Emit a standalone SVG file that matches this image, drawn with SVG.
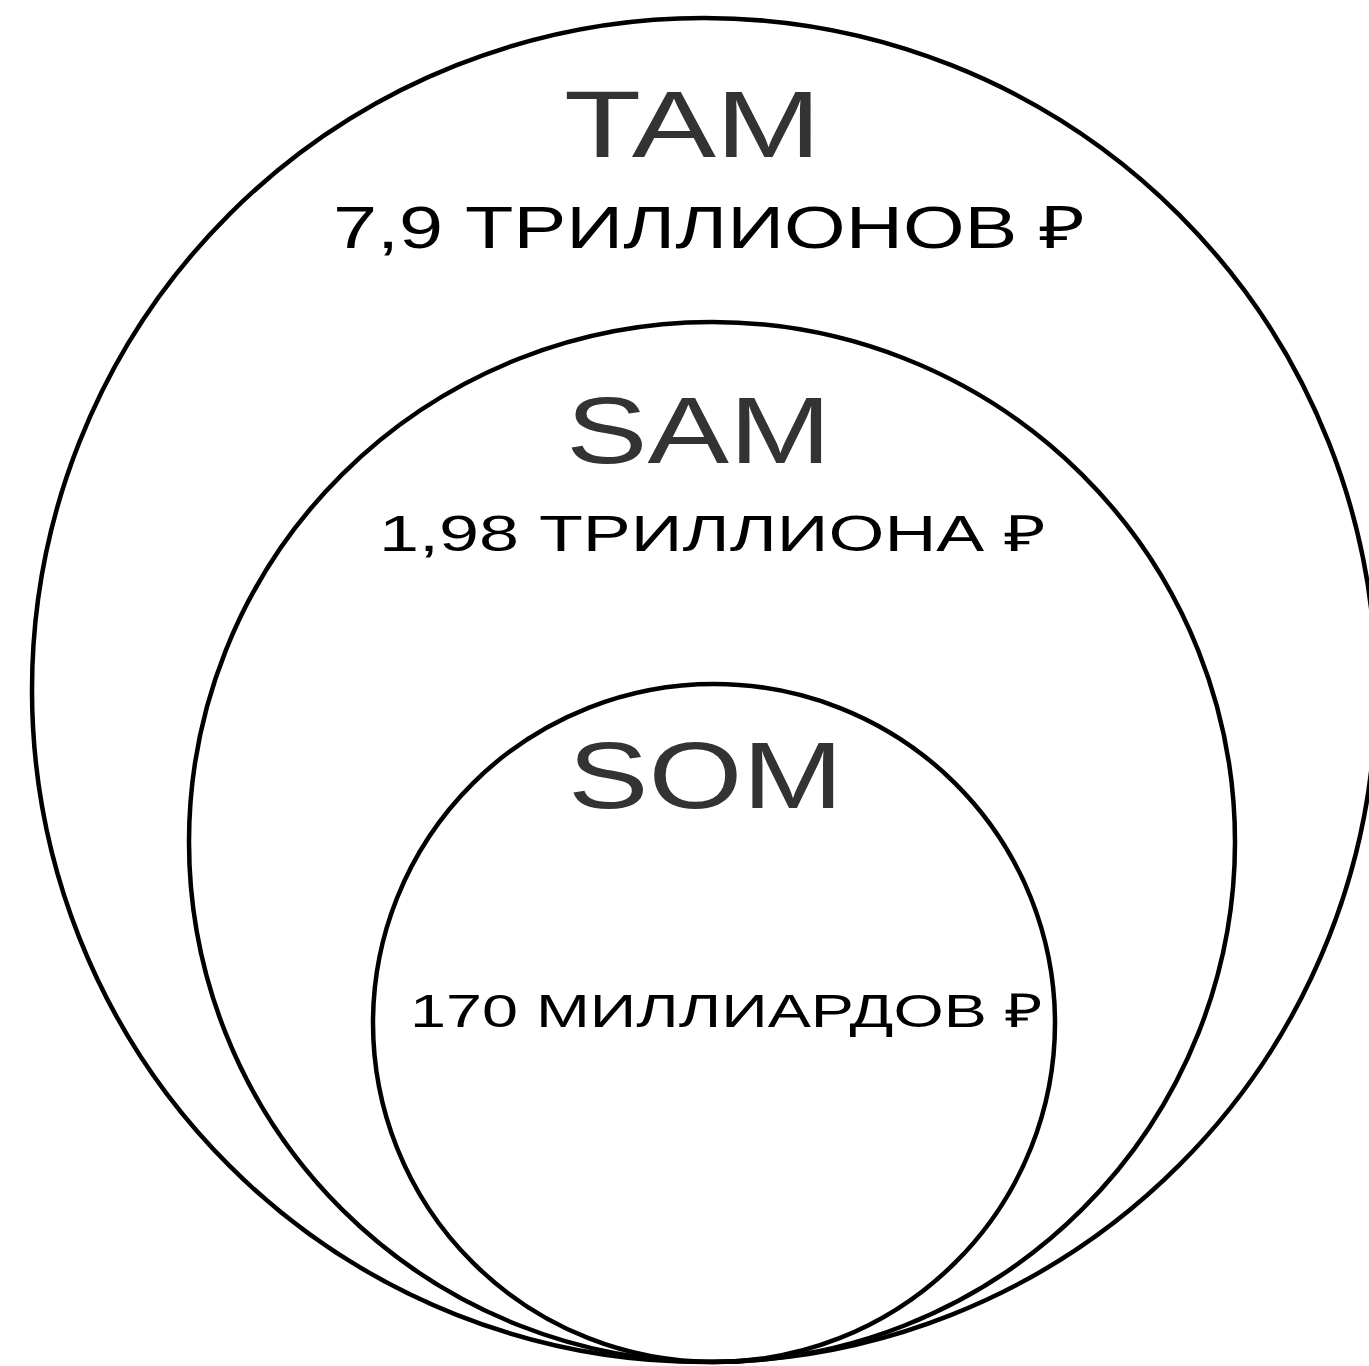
<svg xmlns="http://www.w3.org/2000/svg" width="1369" height="1366" viewBox="0 0 1369 1366">
<style>
.ring{fill:none;stroke:#000;stroke-width:4.5}
.h{font-family:"Liberation Sans",Arial,sans-serif;fill:#333;font-size:94px}
.v{font-family:"Liberation Sans",Arial,sans-serif;fill:#000}
</style>
<rect width="1369" height="1366" fill="#fff"/>
<g id="tam">
<ellipse class="ring" cx="704" cy="690" rx="672" ry="672"/>
<text class="h" x="564" y="157" textLength="257" lengthAdjust="spacingAndGlyphs">TAM</text>
<text class="v" x="333" y="248" font-size="59" textLength="752" lengthAdjust="spacingAndGlyphs">7,9 ТРИЛЛИОНОВ ₽</text>
</g>
<g id="sam">
<ellipse class="ring" cx="712" cy="842" rx="523" ry="520"/>
<text class="h" x="566" y="463" textLength="265" lengthAdjust="spacingAndGlyphs">SAM</text>
<text class="v" x="379" y="551" font-size="50" textLength="667" lengthAdjust="spacingAndGlyphs">1,98 ТРИЛЛИОНА ₽</text>
</g>
<g id="som">
<ellipse class="ring" cx="714" cy="1023" rx="341" ry="339"/>
<text class="h" x="568" y="808" textLength="275" lengthAdjust="spacingAndGlyphs">SOM</text>
<text class="v" x="410" y="1027" font-size="47" textLength="632" lengthAdjust="spacingAndGlyphs">170 МИЛЛИАРДОВ ₽</text>
</g>
<g id="connectors"></g>
</svg>
